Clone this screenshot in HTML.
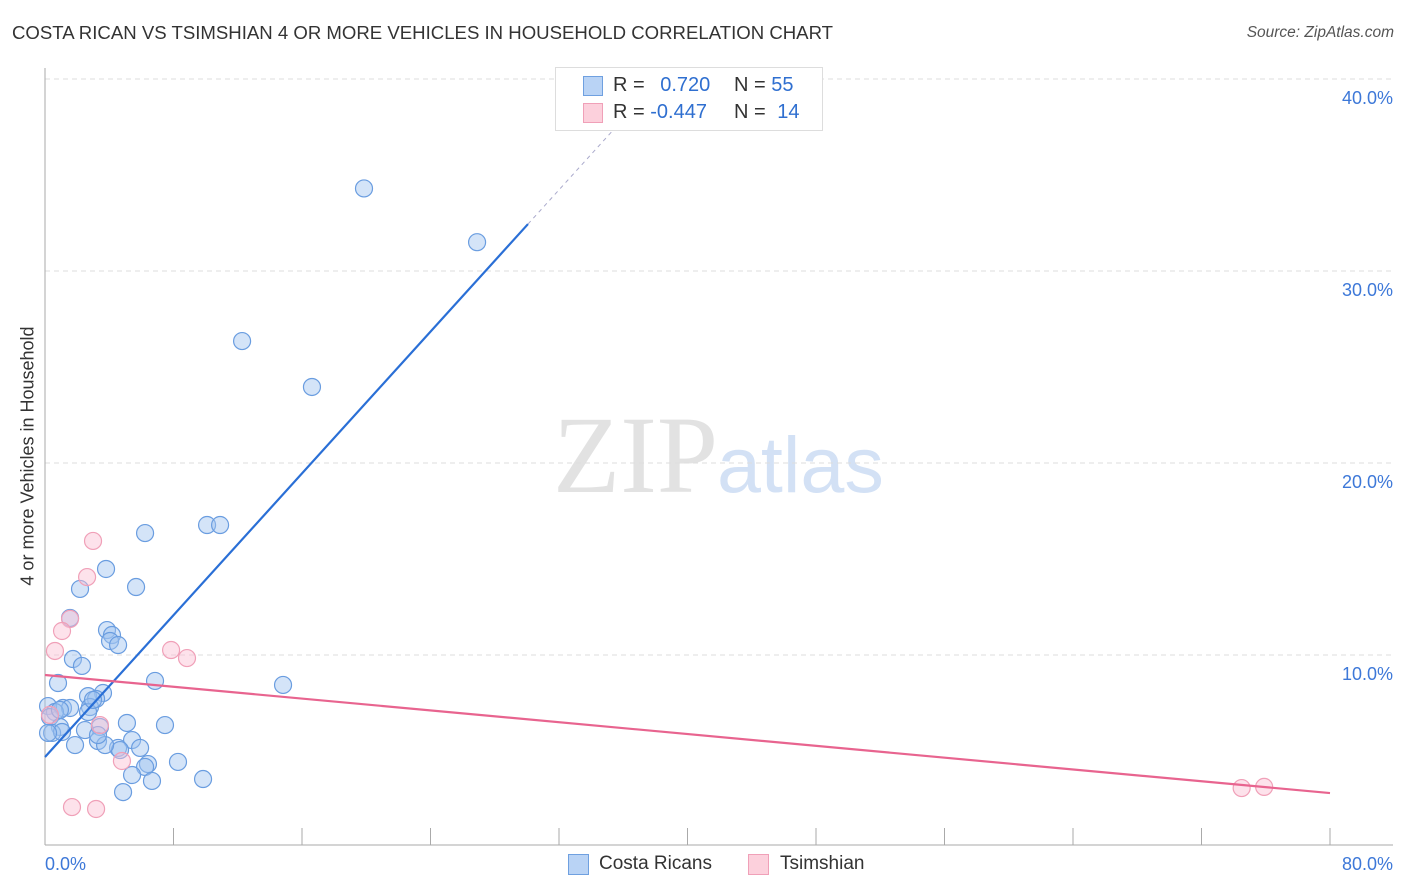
<!DOCTYPE html>
<html><head><meta charset="utf-8"><style>
body{margin:0;background:#fff;font-family:"Liberation Sans",sans-serif;}
#wrap{position:relative;width:1406px;height:892px;overflow:hidden;}
.t{position:absolute;white-space:nowrap;}
</style></head><body><div id="wrap">
<div class="t" style="left:12px;top:22px;font-size:18.6px;color:#333;">COSTA RICAN VS TSIMSHIAN 4 OR MORE VEHICLES IN HOUSEHOLD CORRELATION CHART</div>
<div class="t" style="right:12px;top:24px;font-size:15.5px;color:#555;font-style:italic;">Source: ZipAtlas.com</div>
<div class="t" style="left:28px;top:456px;font-size:18px;color:#333;transform:translate(-50%,-50%) rotate(-90deg);">4 or more Vehicles in Household</div>
<svg id="plot" width="1406" height="892" style="position:absolute;left:0;top:0">
<text x="553" y="492" font-family="Liberation Serif,serif" font-size="110" fill="#e2e2e2">ZIP</text>
<text x="717" y="492" font-family="Liberation Sans,sans-serif" font-size="79" fill="#d3e1f5">atlas</text>
</svg>
<div style="position:absolute;left:555px;top:67px;width:266px;height:62px;border:1px solid #ddd;background:#fff;font-size:20px;">
<div style="position:absolute;left:27px;top:8px;width:18px;height:18px;background:#b9d3f5;border:1px solid #6fa0e0;"></div>
<div class="t" style="left:57px;top:6px;color:#333;">R = <span style="color:#2f6fd0;margin-left:10px">0.720</span></div>
<div class="t" style="left:178px;top:6px;color:#333;">N = <span style="color:#2f6fd0">55</span></div>
<div style="position:absolute;left:27px;top:35px;width:18px;height:18px;background:#fcd0dc;border:1px solid #f0a0b8;"></div>
<div class="t" style="left:57px;top:33px;color:#333;">R = <span style="color:#2f6fd0">-0.447</span></div>
<div class="t" style="left:178px;top:33px;color:#333;">N = <span style="color:#2f6fd0;margin-left:6px">14</span></div>
</div>
<div style="position:absolute;left:568px;top:854px;width:19px;height:19px;background:#b9d3f5;border:1px solid #6fa0e0;"></div>
<div class="t" style="left:599px;top:853px;font-size:19px;color:#333;">Costa Ricans</div>
<div style="position:absolute;left:748px;top:854px;width:19px;height:19px;background:#fcd0dc;border:1px solid #f0a0b8;"></div>
<div class="t" style="left:780px;top:853px;font-size:19px;color:#333;">Tsimshian</div>
</div>
<script>
const blueX=[19.86,26.9,12.27,16.62,10.09,10.9,6.23,3.8,2.18,5.67,1.56,3.86,4.17,4.05,4.55,1.74,2.3,0.81,6.85,14.82,3.61,2.68,3.18,1.12,1.56,2.8,0.19,0.62,0.31,0.93,0.44,2.49,3.42,5.1,7.47,3.3,5.42,1.87,4.55,4.67,5.92,8.28,6.41,6.23,5.42,9.84,6.66,4.86,2.68,1.06,0.19,3.74,2.99,3.3,0.93];
const blueY=[34.3,31.5,26.35,23.96,16.77,16.77,16.35,14.48,13.44,13.54,11.93,11.3,11.04,10.73,10.52,9.79,9.43,8.54,8.65,8.44,8.02,7.86,7.71,7.24,7.24,7.29,7.34,7.03,6.77,6.25,5.94,6.09,6.25,6.46,6.35,5.52,5.57,5.31,5.16,5.05,5.16,4.43,4.32,4.17,3.75,3.54,3.44,2.86,7.03,5.99,5.94,5.31,7.66,5.83,7.14];
const pinkX=[2.99,2.62,1.56,1.06,0.62,7.85,8.84,3.42,4.79,1.68,3.18,74.5,75.9,0.31];
const pinkY=[15.94,14.06,11.88,11.25,10.21,10.26,9.84,6.35,4.48,2.08,1.98,3.07,3.13,6.88];
const blueTrend=[4.69,0.923];
const pinkTrend=[8.96,-0.0769];
const yTicks=[10,20,30,40];
const yTickLabels=["10.0%","20.0%","30.0%","40.0%"];
const xTicks=[0,8,16,24,32,40,48,56,64,72,80];
const xs=v=>45+v*16.0625, ys=v=>847-v*19.2;
const svg=document.getElementById('plot'),NS='http://www.w3.org/2000/svg';
function mk(t,a){const e=document.createElementNS(NS,t);for(const k in a)e.setAttribute(k,a[k]);svg.appendChild(e);return e;}
yTicks.forEach((v,i)=>{
 const g=mk('line',{x1:45,x2:1393,y1:ys(v),y2:ys(v),stroke:'#ddd','stroke-dasharray':'5,4'});
 
 
 const t=mk('text',{x:1393,y:ys(v)+25,'text-anchor':'end','font-size':18,fill:'#3d78d8','font-family':'Liberation Sans,sans-serif'});
 t.textContent=yTickLabels[i];
 
 
});
const ax=mk('line',{x1:45,x2:45,y1:68,y2:845,stroke:'#aaa'});


const bx=mk('line',{x1:45,x2:1393,y1:845,y2:845,stroke:'#aaa'});


xTicks.forEach(v=>{
 const l=mk('line',{x1:xs(v),x2:xs(v),y1:828,y2:845,stroke:'#aaa'});
 
 
});
[[0,'start','0.0%',45],[80,'end','80.0%',1393]].forEach(d=>{
 const t=mk('text',{x:d[3],y:870,'text-anchor':d[1],'font-size':18,fill:'#3d78d8','font-family':'Liberation Sans,sans-serif'});
 t.textContent=d[2];
 
 
});
blueX.forEach((x,i)=>{
 const c=mk('circle',{cx:xs(x),cy:ys(blueY[i]),r:8.5,fill:'rgba(160,195,240,0.45)',stroke:'#6a9de0','stroke-width':1.2});
 
 
});
pinkX.forEach((x,i)=>{
 const c=mk('circle',{cx:xs(x),cy:ys(pinkY[i]),r:8.5,fill:'rgba(250,190,210,0.45)',stroke:'#f0a0b8','stroke-width':1.2});
 
 
});
const bl=mk('line',{x1:xs(0),y1:ys(blueTrend[0]),x2:xs(30.07),y2:ys(blueTrend[0]+blueTrend[1]*30.07),stroke:'#2a6fd6','stroke-width':2.2});


const bd=mk('line',{x1:xs(30.07),y1:ys(blueTrend[0]+blueTrend[1]*30.07),x2:xs(37),y2:ys(blueTrend[0]+blueTrend[1]*37),stroke:'#aac','stroke-width':1,'stroke-dasharray':'4,4'});


const pl=mk('line',{x1:xs(0),y1:ys(pinkTrend[0]),x2:xs(80),y2:ys(pinkTrend[0]+pinkTrend[1]*80),stroke:'#e8648f','stroke-width':2.2});


</script>
</body></html>
